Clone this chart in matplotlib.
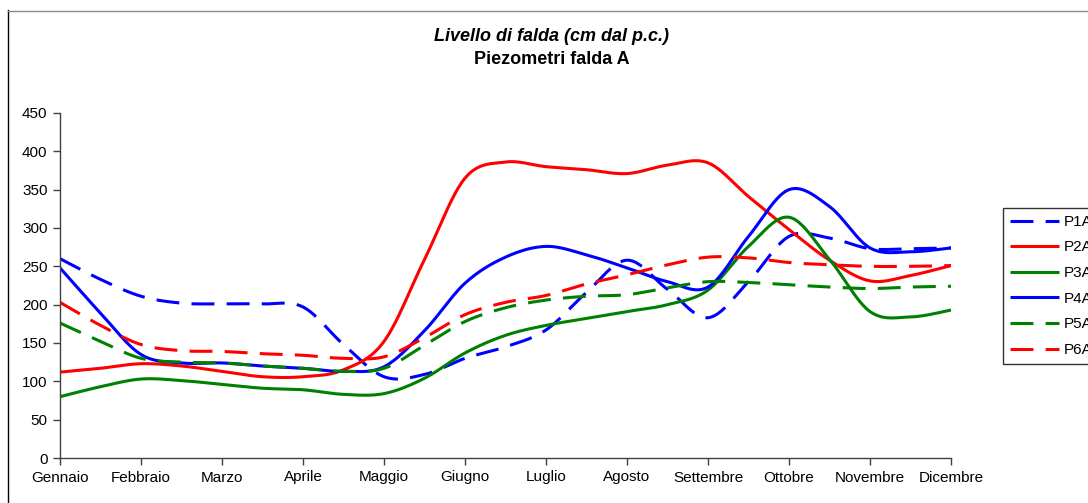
import matplotlib
matplotlib.use("Agg")
import matplotlib.pyplot as plt
import numpy as np
from matplotlib.lines import Line2D

plt.rcParams['font.family'] = ['Liberation Sans', 'DejaVu Sans']

# months (tick labels) and sampling positions (half-month steps)
mesi = ["Gennaio", "Febbraio", "Marzo", "Aprile", "Maggio", "Giugno",
        "Luglio", "Agosto", "Settembre", "Ottobre", "Novembre", "Dicembre"]
pos = [0, 0.5, 1, 1.5, 2, 2.5, 3, 3.5, 4, 4.5, 5, 5.5,
       6, 6.5, 7, 7.5, 8, 8.5, 9, 9.5, 10, 10.5, 11]

# livello di falda, cm dal p.c.
p1a = [260, 233, 211, 202, 201, 201, 197, 148, 106, 109, 130, 145,
       167, 216, 258, 220, 183, 230, 289, 287, 273, 273, 274]
p2a = [112, 117, 123, 120, 113, 106, 106, 115, 152, 259, 365, 386,
       380, 376, 371, 382, 385, 341, 298, 258, 231, 238, 251]
p3a = [80, 93, 103, 101, 96, 91, 89, 83, 84, 104, 137, 160,
       173, 182, 191, 200, 219, 276, 314, 259, 191, 184, 193]
p4a = [248, 189, 135, 124, 124, 120, 117, 113, 119, 166, 228, 262,
       276, 265, 248, 230, 223, 289, 350, 328, 274, 269, 274]
p5a = [176, 152, 130, 125, 124, 120, 117, 113, 117, 147, 178, 196,
       206, 211, 213, 222, 230, 229, 226, 223, 221, 223, 224]
p6a = [203, 173, 148, 140, 139, 136, 134, 130, 132, 157, 187, 203,
       212, 227, 239, 252, 262, 261, 255, 252, 250, 250, 251]

series = [("P1A", p1a, "#0000FF", "dash"),
          ("P2A", p2a, "#FF0000", "solid"),
          ("P3A", p3a, "#008000", "solid"),
          ("P4A", p4a, "#0000FF", "solid"),
          ("P5A", p5a, "#008000", "dash"),
          ("P6A", p6a, "#FF0000", "dash")]


def smooth(x, y, n=24):
    # Excel-like smoothed line (cubic bezier through the points)
    x = np.asarray(x, float)
    y = np.asarray(y, float)
    px = np.concatenate([[x[0]], x, [x[-1]]])
    py = np.concatenate([[y[0]], y, [y[-1]]])
    t = np.linspace(0, 1, n, endpoint=False)[:, None]
    out = []
    for i in range(len(x) - 1):
        p0 = np.array([px[i], py[i]])
        p1 = np.array([px[i + 1], py[i + 1]])
        p2 = np.array([px[i + 2], py[i + 2]])
        p3 = np.array([px[i + 3], py[i + 3]])
        c1 = p1 + (p2 - p0) / 6.0
        c2 = p2 - (p3 - p1) / 6.0
        b = ((1 - t) ** 3) * p1 + 3 * ((1 - t) ** 2) * t * c1 \
            + 3 * (1 - t) * t ** 2 * c2 + t ** 3 * p2
        out.append(b)
    out.append(np.array([[x[-1], y[-1]]]))
    out = np.vstack(out)
    return out[:, 0], out[:, 1]


fig = plt.figure(figsize=(10.88, 5.03), dpi=100)
ax = fig.add_axes([60 / 1088, 1 - 458 / 503, (951 - 60) / 1088, 345 / 503])

for name, vals, col, style in series:
    xs, ys = smooth(pos, vals)
    ls = (0, (7.5, 4)) if style == "dash" else "-"
    ax.plot(xs, ys, color=col, lw=2.2, linestyle=ls, label=name,
            solid_capstyle="butt", dash_capstyle="butt")

ax.set_xlim(0, 11)
ax.set_ylim(0, 450)
ax.set_xticks(range(12))
ax.set_xticklabels(mesi)
ax.set_yticks(range(0, 451, 50))
ax.tick_params(axis="both", direction="out", length=5, width=1,
               color="#404040", labelsize=11, pad=4)
for s in ["top", "right"]:
    ax.spines[s].set_visible(False)
for s in ["left", "bottom"]:
    ax.spines[s].set_color("#404040")
    ax.spines[s].set_linewidth(1)

fig.text(552 / 1088, 1 - 37 / 503, "Livello di falda (cm dal p.c.)",
         ha="center", va="center", fontsize=13, fontweight="bold",
         fontstyle="italic")
fig.text(552 / 1088, 1 - 60 / 503, "Piezometri falda A",
         ha="center", va="center", fontsize=13, fontweight="bold")

leg = ax.legend(loc="upper left", bbox_to_anchor=(1003 / 1088, 1 - 208 / 503),
                bbox_transform=fig.transFigure, fontsize=11, frameon=True,
                fancybox=False, borderaxespad=0, handlelength=3.2,
                labelspacing=0.76, handletextpad=0.3, borderpad=0.45)
leg.get_frame().set_edgecolor("black")
leg.get_frame().set_linewidth(1)

# chart area border (left edge black, top edge grey)
fig.add_artist(Line2D([7.5 / 1088, 7.5 / 1088], [0, 1 - 10 / 503],
                      transform=fig.transFigure, color="black", lw=1))
fig.add_artist(Line2D([7.5 / 1088, 1], [1 - 10.5 / 503, 1 - 10.5 / 503],
                      transform=fig.transFigure, color="#888888", lw=1))

fig.savefig("out.png", dpi=100)
